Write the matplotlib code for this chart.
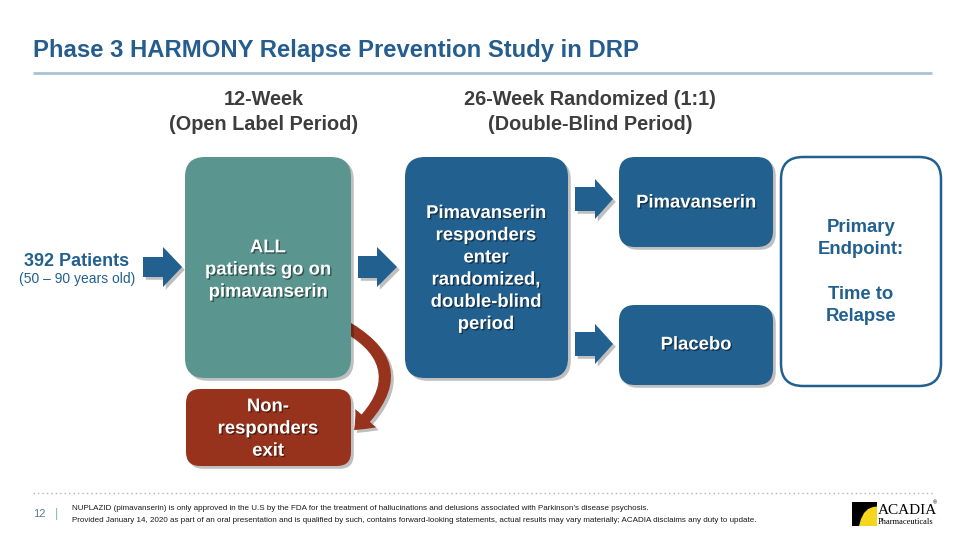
import matplotlib
matplotlib.use("Agg")
import matplotlib.pyplot as plt
from matplotlib.patches import FancyBboxPatch, Polygon, FancyArrowPatch, Rectangle
import matplotlib.patheffects as pe

# ---- content ----
title = "Phase 3 HARMONY Relapse Prevention Study in DRP"
header_left = "12-Week\n(Open Label Period)"
header_right = "26-Week Randomized (1:1)\n(Double-Blind Period)"
patients_main = "392 Patients"
patients_sub = "(50 – 90 years old)"
box_all = "ALL\npatients go on\npimavanserin"
box_non = "Non-\nresponders\nexit"
box_resp = "Pimavanserin\nresponders\nenter\nrandomized,\ndouble-blind\nperiod"
box_pima = "Pimavanserin"
box_plac = "Placebo"
box_end = "Primary\nEndpoint:\n\nTime to\nRelapse"
page_no = "12"
footer1 = "NUPLAZID (pimavanserin) is only approved in the U.S by the FDA for the treatment of hallucinations and delusions associated with Parkinson’s disease psychosis."
footer2 = "Provided January 14, 2020 as part of an oral presentation and is qualified by such, contains forward-looking statements, actual results may vary materially; ACADIA disclaims any duty to update."

# ---- colours ----
BLUE = "#21608F"
TEAL = "#5A968F"
RED = "#97331D"
TITLE_C = "#255D8E"
HEAD_C = "#3D3D3D"

plt.rcParams['font.family'] = ['Liberation Sans', 'DejaVu Sans']

fig = plt.figure(figsize=(9.6, 5.4), dpi=100)
ax = fig.add_axes([0, 0, 1, 1])
ax.set_xlim(0, 960)
ax.set_ylim(540, 0)
ax.axis('off')

shadow = [pe.SimplePatchShadow(offset=(2, -2), shadow_rgbFace='black', alpha=0.25), pe.Normal()]
tshadow = [pe.SimplePatchShadow(offset=(1, -1), shadow_rgbFace='black', alpha=0.45), pe.Normal()]

def rbox(x0, y0, x1, y1, r, fc, ec=None, lw=0, sh=True):
    p = FancyBboxPatch((x0, y0), x1 - x0, y1 - y0,
                       boxstyle=f"round,pad=0,rounding_size={r}",
                       fc=fc, ec=ec if ec else fc, lw=lw, zorder=2)
    if sh:
        p.set_path_effects(shadow)
    ax.add_patch(p)

def barrow(x0, x1, yc, th, hh, xh):
    pts = [(x0, yc - th), (xh, yc - th), (xh, yc - hh), (x1, yc),
           (xh, yc + hh), (xh, yc + th), (x0, yc + th)]
    p = Polygon(pts, closed=True, fc=BLUE, ec='none', zorder=3)
    p.set_path_effects(shadow)
    ax.add_patch(p)

# title + rule
ax.text(33, 51, title, fontsize=17.2, fontweight='bold', color=TITLE_C, ha='left', va='center')
ax.plot([33, 932], [73, 73], color="#A9C3D3", lw=2, solid_capstyle='butt')

# headers
ax.text(264, 112, header_left, fontsize=14.3, fontweight='bold', color=HEAD_C,
        ha='center', va='center', linespacing=1.45)
ax.text(590, 112, header_right, fontsize=14.3, fontweight='bold', color=HEAD_C,
        ha='center', va='center', linespacing=1.45)

# patients
ax.text(77, 262, patients_main, fontsize=13, fontweight='bold', color=BLUE, ha='center', va='center')
ax.text(77, 279, patients_sub, fontsize=10, color=BLUE, ha='center', va='center')

# curved arrow (non-responders exit), drawn beneath the boxes
ca = FancyArrowPatch((338, 322), (352, 432), connectionstyle="arc3,rad=-0.72",
                     arrowstyle="simple,head_length=1.2,head_width=2.0,tail_width=0.8",
                     mutation_scale=10, fc=RED, ec='none', zorder=1)
ca.set_path_effects(shadow)
ax.add_patch(ca)

# boxes
rbox(185, 157, 351, 378, 20, TEAL)
rbox(186, 389, 351, 466, 14, RED)
rbox(405, 157, 568, 378, 20, BLUE)
rbox(619, 157, 773, 247, 16, BLUE)
rbox(619, 305, 773, 385, 16, BLUE)
rbox(781, 157, 941, 386, 22, 'white', ec=BLUE, lw=1.8, sh=False)

# arrows
barrow(143, 182, 267, 10, 20, 163)
barrow(358, 397, 267, 11, 20, 377)
barrow(575, 613, 199, 12, 20, 595)
barrow(575, 613, 344, 12, 20, 595)

# box texts
def wtext(x, y, s, ls=1.4, fs=13.3):
    ax.text(x, y, s, fontsize=fs, fontweight='bold', color='white', ha='center', va='center',
            linespacing=ls, path_effects=tshadow, zorder=5)

wtext(268, 270, box_all)
wtext(268, 429, box_non)
wtext(486, 269, box_resp)
wtext(696, 203, box_pima)
wtext(696, 345, box_plac)
ax.text(861, 272, box_end, fontsize=13.3, fontweight='bold', color=BLUE, ha='center',
        va='center', linespacing=1.4, zorder=5)

# footer
ax.plot([33, 935], [493, 493], color="#B5B5B5", lw=1, ls=(0, (1, 2.2)))
ax.text(33, 514, page_no, fontsize=8, color="#5E7A92", ha='left', va='center')
ax.text(55, 514, "|", fontsize=9, color="#7FB2D5", ha='left', va='center')
ax.text(72, 508, footer1, fontsize=5.8, color="#1A1A1A", ha='left', va='center')
ax.text(72, 521, footer2, fontsize=5.8, color="#1A1A1A", ha='left', va='center')

# logo
ax.add_patch(Rectangle((852, 502), 25, 24, fc='black', ec='none', zorder=3))
ax.add_patch(Polygon([(859, 526), (861, 519), (864, 513), (868, 509), (873, 507), (877, 506.5),
                      (877, 526)],
                     closed=True, fc="#F6D51F", ec='none', zorder=4))
ax.text(878, 511, "ACADIA", fontsize=11, family='Liberation Serif', color='black',
        ha='left', va='center')
ax.text(933, 503, "®", fontsize=4, color='black', ha='left', va='center')
ax.text(878, 522, "Pharmaceuticals", fontsize=6, family='Liberation Serif', color='black',
        ha='left', va='center')

fig.savefig("out.png", dpi=100)
